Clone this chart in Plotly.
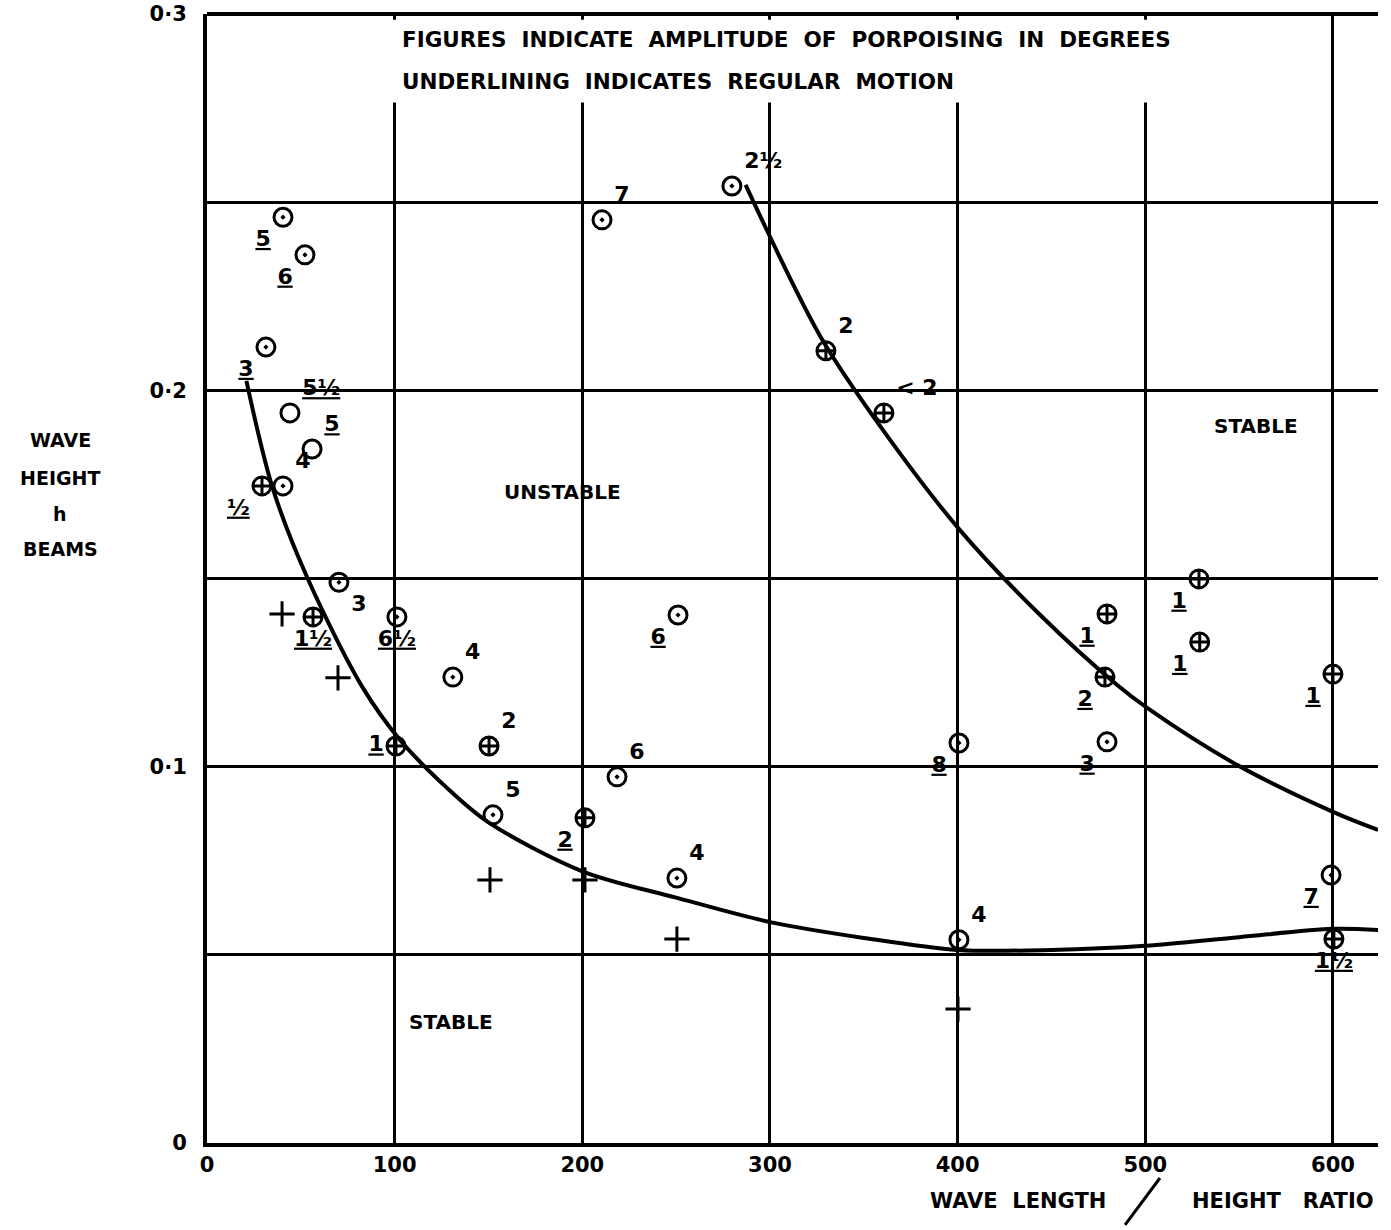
import plotly.graph_objects as go

# --- Porpoising test results: wave height (beams) against wave length / height ratio ---

# Regular points (circle with centre dot)
dot_x = [40.5, 52.2, 31.4, 40.5, 70.3, 101.2, 131, 152.4, 218.5, 250.4, 210.5, 279.7, 251, 400.7, 400.7, 479.6, 599]
dot_y = [0.246, 0.236, 0.2115, 0.1746, 0.149, 0.1398, 0.1238, 0.0872, 0.0973, 0.0704, 0.2453, 0.2543, 0.1403, 0.1063, 0.054, 0.1066, 0.0712]
dot_lbl = ["<u>5</u>", "<u>6</u>", "<u>3</u>", "4", "3", "<u>6½</u>", "4", "5", "6", "4", "7", "2½", "<u>6</u>", "<u>8</u>", "4", "<u>3</u>", "<u>7</u>"]
dot_pos = ["bottom left", "bottom left", "bottom left", "top right", "bottom right", "bottom center", "top right",
           "top right", "top right", "top right", "top right", "top right", "bottom left", "bottom left",
           "top right", "bottom left", "bottom left"]

# Plain open circles
ring_x = [44.2, 56]
ring_y = [0.194, 0.1844]
ring_lbl = ["<u>5½</u>", "<u>5</u>"]
ring_pos = ["top right", "top right"]

# Circle with cross
crs_x = [29.3, 56.5, 100.7, 150.3, 201.4, 329.8, 360.7, 479.6, 478.5, 528.6, 529, 600, 600.5]
crs_y = [0.1746, 0.1398, 0.1055, 0.1055, 0.0864, 0.2105, 0.194, 0.1406, 0.1238, 0.1499, 0.1331, 0.1246, 0.0542]
crs_lbl = ["<u>½</u>", "<u>1½</u>", "<u>1</u>", "2", "<u>2</u>", "2", "&lt; 2", "<u>1</u>", "<u>2</u>",
           "<u>1</u>", "<u>1</u>", "<u>1</u>", "<u>1½</u>"]
crs_pos = ["bottom left", "bottom center", "middle left", "top right", "bottom left", "top right", "top right",
           "bottom left", "bottom left", "bottom left", "bottom left", "bottom left", "bottom center"]

# Stable runs (plus sign)
plus_x = [40, 69.8, 150.8, 201.4, 250.4, 400.2]
plus_y = [0.1406, 0.1236, 0.0699, 0.0699, 0.0542, 0.0356]

# Stability boundaries
lower_x = [21, 35, 54, 83, 103, 128, 150, 200, 250, 300, 350, 400, 450, 500, 550, 600, 624]
lower_y = [0.2025, 0.174, 0.1496, 0.121, 0.107, 0.0943, 0.0852, 0.0722, 0.0652, 0.0587, 0.0545, 0.0513,
           0.0513, 0.0524, 0.0547, 0.0569, 0.0566]
upper_x = [287, 327, 359, 401, 444, 485, 501, 547, 600, 624]
upper_y = [0.2546, 0.2142, 0.1903, 0.163, 0.1403, 0.1217, 0.1156, 0.101, 0.088, 0.0832]

x_ticks = [0, 100, 200, 300, 400, 500, 600]
x_ticktext = ["0", "100", "200", "300", "400", "500", "600"]
y_ticks = [0, 0.05, 0.1, 0.15, 0.2, 0.25, 0.3]
y_ticktext = ["0", "", "0·1", "", "0·2", "", "0·3"]

FONT = "DejaVu Sans"
INK = "black"
lbl_font = dict(family=FONT, size=22, color=INK, weight="bold")

fig = go.Figure()

for xs, ys in [(lower_x, lower_y), (upper_x, upper_y)]:
    fig.add_trace(go.Scatter(x=xs, y=ys, mode="lines",
                             line=dict(color=INK, width=4, shape="spline", smoothing=0.9),
                             hoverinfo="skip", showlegend=False))

fig.add_trace(go.Scatter(x=dot_x, y=dot_y, mode="markers+text", text=dot_lbl, textposition=dot_pos,
                         textfont=lbl_font,
                         marker=dict(symbol="circle-open-dot", size=18, color=INK, line=dict(width=3)),
                         showlegend=False))
fig.add_trace(go.Scatter(x=ring_x, y=ring_y, mode="markers+text", text=ring_lbl, textposition=ring_pos,
                         textfont=lbl_font,
                         marker=dict(symbol="circle-open", size=18, color=INK, line=dict(width=3)),
                         showlegend=False))
fig.add_trace(go.Scatter(x=crs_x, y=crs_y, mode="markers+text", text=crs_lbl, textposition=crs_pos,
                         textfont=lbl_font,
                         marker=dict(symbol="circle-cross-open", size=18, color=INK, line=dict(width=3)),
                         showlegend=False))
fig.add_trace(go.Scatter(x=plus_x, y=plus_y, mode="markers",
                         marker=dict(symbol="cross-thin-open", size=18, color=INK, line=dict(width=3, color=INK)),
                         showlegend=False))

# clear band behind the two heading lines (hides the grid there, keeps the marks)
fig.add_shape(type="rect", xref="x", yref="y", x0=97, x1=517, y0=0.2765, y1=0.2985,
              fillcolor="white", line=dict(width=0), layer="between")

txt = dict(family=FONT, size=20, color=INK, weight="bold")
head = dict(family=FONT, size=21.5, color=INK, weight="bold")
nb = "\u00a0\u00a0"
notes = [
    (102.8, 0.2931, "FIGURES" + nb + "INDICATE" + nb + "AMPLITUDE" + nb + "OF" + nb + "PORPOISING" + nb + "IN" + nb + "DEGREES", "left", head),
    (102.8, 0.2820, "UNDERLINING" + nb + "INDICATES" + nb + "REGULAR" + nb + "MOTION", "left", head),
    (189.7, 0.173, "UNSTABLE", "center", txt),
    (559, 0.1905, "STABLE", "center", txt),
    (130, 0.0322, "STABLE", "center", txt),
]
for x, y, t, anc, f in notes:
    fig.add_annotation(x=x, y=y, xref="x", yref="y", text=t, showarrow=False, xanchor=anc,
                       yanchor="middle", font=f)

# Axis titles
ttl = dict(family=FONT, size=19, color=INK, weight="bold")
xttl = dict(family=FONT, size=21, color=INK, weight="bold")
for t, yp in [("WAVE", 0.6227), ("HEIGHT", 0.589), ("h", 0.5571), ("BEAMS", 0.5261)]:
    fig.add_annotation(x=-0.1255, y=yp, xref="paper", yref="paper", showarrow=False, text=t,
                       xanchor="center", yanchor="middle", font=ttl)
fig.add_annotation(x=0.6925, y=-0.0514, xref="paper", yref="paper", showarrow=False,
                   xanchor="center", yanchor="middle",
                   text="WAVE" + nb + "LENGTH", font=xttl)
fig.add_annotation(x=0.919, y=-0.0514, xref="paper", yref="paper", showarrow=False,
                   xanchor="center", yanchor="middle",
                   text="HEIGHT" + nb + "\u00a0RATIO", font=xttl)
fig.add_shape(type="line", xref="paper", yref="paper", x0=0.784, y0=-0.0726, x1=0.8138, y1=-0.031,
              line=dict(color=INK, width=3))
# top border of the frame
fig.add_shape(type="line", xref="paper", yref="paper", x0=0, y0=1, x1=1, y1=1,
              line=dict(color=INK, width=4))

fig.update_layout(
    width=1391, height=1230,
    margin=dict(l=207, r=13, t=14, b=87),
    paper_bgcolor="white", plot_bgcolor="white",
    xaxis=dict(range=[0, 624], tickvals=x_ticks, ticktext=x_ticktext, showgrid=True, automargin=False,
               gridcolor=INK, gridwidth=3, zeroline=False, showline=True, linecolor=INK, linewidth=4,
               ticks="", ticklabelstandoff=0,
               tickfont=dict(family=FONT, size=21, color=INK, weight="bold")),
    yaxis=dict(range=[0, 0.3], tickvals=y_ticks, ticktext=y_ticktext, showgrid=True, automargin=False,
               gridcolor=INK, gridwidth=3, zeroline=False, showline=True, linecolor=INK, linewidth=4,
               ticks="", ticklabelstandoff=12,
               tickfont=dict(family=FONT, size=21, color=INK, weight="bold")),
)

fig.write_html("out.html")
